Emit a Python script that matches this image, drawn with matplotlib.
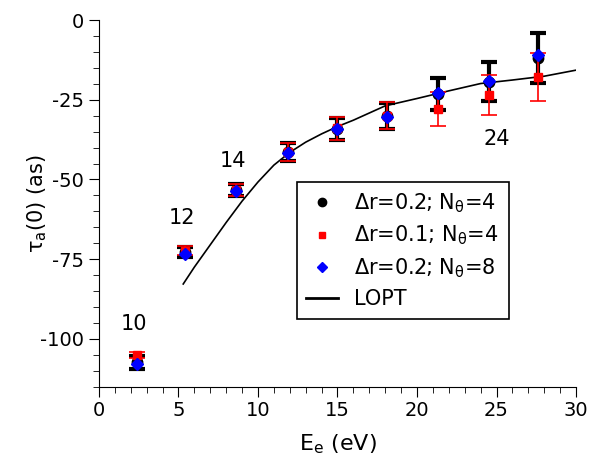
import matplotlib
matplotlib.use("Agg")
import matplotlib.pyplot as plt
from matplotlib.lines import Line2D

plt.rcParams['font.family'] = ['DejaVu Sans']
plt.rcParams['mathtext.default'] = 'regular'
plt.rcParams['axes.unicode_minus'] = False

# photoelectron energy (eV)
energy = [2.4, 5.4, 8.6, 11.9, 15.0, 18.1, 21.3, 24.5, 27.6]

# dr=0.2, Ntheta=4
tau_a = [-107.4, -72.8, -53.3, -41.4, -34.1, -30.1, -23.1, -19.3, -11.8]
err_a = [2.1, 1.6, 1.9, 2.8, 3.5, 4.2, 5.0, 6.0, 7.8]
# dr=0.1, Ntheta=4
tau_b = [-105.0, -72.3, -53.3, -41.4, -34.0, -30.0, -27.9, -23.5, -17.9]
err_b = [1.0, 1.3, 1.9, 2.8, 3.5, 4.2, 5.4, 6.4, 7.5]
# dr=0.2, Ntheta=8
tau_c = [-107.8, -73.4, -53.7, -41.6, -34.3, -30.4, -22.9, -19.1, -10.8]

# LOPT curve
lopt_e = [5.3, 6, 7, 8, 9, 10, 11, 12, 13, 14, 15, 16, 18, 20, 22, 24, 26, 28, 30]
lopt_t = [-82.8, -77.5, -70.5, -63.5, -56.8, -50.8, -45.5, -41.5, -38.3, -35.7,
          -33.4, -31.4, -26.9, -24.6, -22.2, -19.9, -18.8, -17.6, -15.7]

# harmonic order labels
harm = ["10", "12", "14", "24"]
harm_x = [2.2, 5.2, 8.4, 25.0]
harm_y = [-95.2, -62.2, -44.2, -37.2]

labels = ['Δr=0.2; N$_θ$=4 ', 'Δr=0.1; N$_θ$=4 ', 'Δr=0.2; N$_θ$=8 ', 'LOPT']

fig = plt.figure(figsize=(6.07, 4.57), dpi=100)
ax = fig.add_axes([0.163, 0.154, 0.786, 0.802])

ax.plot(lopt_e, lopt_t, color='black', lw=1.2, zorder=2)
ax.errorbar(energy, tau_a, yerr=err_a, fmt='o', color='black', ms=7.5,
	elinewidth=3, capsize=5.5, capthick=3, zorder=3)
ax.errorbar(energy, tau_b, yerr=err_b, fmt='s', color='red', ms=6,
	elinewidth=1.2, capsize=5.5, capthick=1.2, zorder=4)
ax.plot(energy, tau_c, 'D', color='blue', ms=6.5, zorder=5)

for t, x, y in zip(harm, harm_x, harm_y):
	ax.text(x, y, t, fontsize=15, ha='center', va='center')

ax.set_xlim(0, 30)
ax.set_ylim(-115, 0)
ax.set_xticks(range(0, 31, 5))
ax.set_xticks(range(0, 31), minor=True)
ax.set_yticks([-100, -75, -50, -25, 0])
ax.set_yticks(range(-115, 1, 5), minor=True)
ax.spines['top'].set_visible(False)
ax.spines['right'].set_visible(False)
ax.tick_params(which='major', direction='out', length=7, labelsize=14)
ax.tick_params(which='minor', direction='out', length=4)
ax.set_xlabel('E$_e$ (eV)', fontsize=16)
ax.set_ylabel('τ$_a$(0) (as)', fontsize=15)
ax.xaxis.set_label_coords(0.5, -0.125)
ax.yaxis.set_label_coords(-0.105, 0.5)

# legend with marker-only handles
handles = [
	Line2D([], [], ls='none', marker='o', color='black', ms=6),
	Line2D([], [], ls='none', marker='s', color='red', ms=5),
	Line2D([], [], ls='none', marker='D', color='blue', ms=5),
	Line2D([], [], color='black', lw=2),
]
leg = ax.legend(handles, labels, loc='upper left',
	bbox_to_anchor=(0.415, 0.559), fontsize=15, fancybox=False,
	edgecolor='black', framealpha=1, handlelength=1.5,
	handletextpad=0.8, borderpad=0.45, labelspacing=0.44,
	borderaxespad=0)
leg.get_frame().set_linewidth(1.2)

plt.savefig("out.png", dpi=100)
